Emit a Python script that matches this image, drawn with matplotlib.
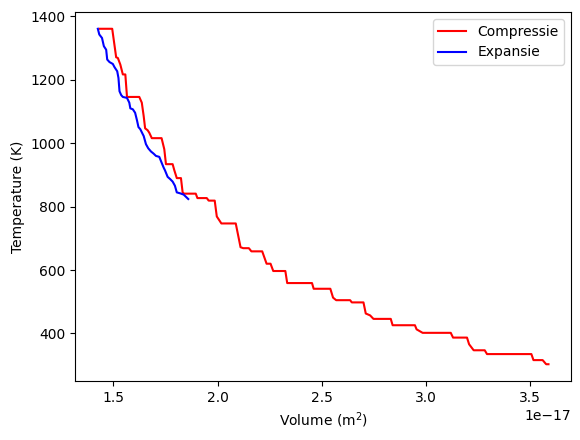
import matplotlib
matplotlib.use("Agg")
import matplotlib.pyplot as plt
import numpy as np

# Compressie (red) - volume in units of 1e-17 m^2, temperature in K
comp_v = [1.434, 1.494, 1.513, 1.521, 1.533, 1.545, 1.557, 1.565, 1.624, 1.636,
          1.645, 1.652, 1.664, 1.672, 1.684, 1.731, 1.744, 1.752, 1.784, 1.792,
          1.804, 1.824, 1.832, 1.839, 1.895, 1.903, 1.948, 1.957, 1.986, 1.996,
          2.018, 2.087, 2.110, 2.123, 2.150, 2.162, 2.214, 2.235, 2.254, 2.267,
          2.325, 2.334, 2.453, 2.461, 2.541, 2.554, 2.569, 2.636, 2.644, 2.700,
          2.711, 2.732, 2.748, 2.831, 2.840, 2.947, 2.955, 2.984, 3.119, 3.130,
          3.197, 3.207, 3.229, 3.282, 3.293, 3.506, 3.516, 3.560, 3.577, 3.588]
comp_t = [1361, 1361, 1271, 1269, 1248, 1217, 1217, 1146, 1146, 1128,
          1086, 1047, 1041, 1033, 1016, 1016, 981, 934, 934, 915,
          890, 890, 845, 841, 841, 827, 827, 819, 819, 769,
          747, 747, 672, 669, 669, 659, 659, 620, 620, 597,
          597, 559, 559, 541, 541, 513, 505, 505, 498, 498,
          463, 457, 446, 446, 426, 426, 413, 402, 402, 387,
          387, 366, 347, 347, 335, 335, 316, 316, 303, 303]

# Expansie (blue)
exp_v = [1.425, 1.432, 1.445, 1.454, 1.465, 1.470, 1.481, 1.497, 1.505, 1.518,
         1.524, 1.529, 1.537, 1.545, 1.565, 1.576, 1.581, 1.593, 1.604, 1.613,
         1.620, 1.629, 1.641, 1.645, 1.656, 1.667, 1.680, 1.693, 1.704, 1.720,
         1.731, 1.741, 1.747, 1.760, 1.772, 1.784, 1.795, 1.804, 1.820, 1.837,
         1.848, 1.859]
exp_t = [1361, 1343, 1332, 1306, 1295, 1264, 1256, 1250, 1240, 1227,
         1206, 1164, 1152, 1146, 1143, 1128, 1110, 1107, 1096, 1072,
         1051, 1044, 1028, 1023, 997, 984, 974, 967, 960, 957,
         939, 923, 915, 894, 887, 879, 866, 845, 842, 838,
         831, 824]

fig = plt.figure(figsize=(5.8, 4.4), dpi=100)
ax = fig.add_axes([75.3 / 580, (440 - 381) / 440, (571 - 75.3) / 580, (381 - 12) / 440])

ax.plot(np.array(comp_v) * 1e-17, comp_t, color="red", label="Compressie")
ax.plot(np.array(exp_v) * 1e-17, exp_t, color="blue", label="Expansie")

ax.set_xlabel("Volume (m$^2$)")
ax.set_ylabel("Temperature (K)")
ax.legend(loc="upper right")

fig.savefig("out.png", dpi=100)
